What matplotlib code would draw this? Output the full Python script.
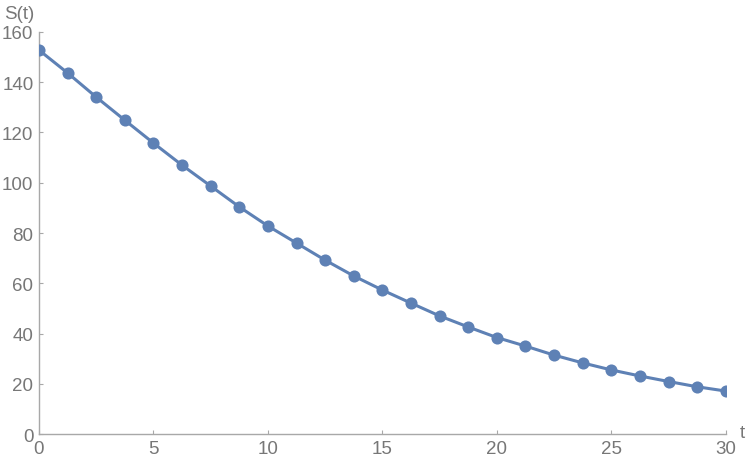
import numpy as np
import matplotlib.pyplot as plt

plt.rcParams['font.family'] = ['Liberation Sans', 'DejaVu Sans']

# data
t = [0, 1.25, 2.5, 3.75, 5, 6.25, 7.5, 8.75, 10, 11.25, 12.5, 13.75, 15,
     16.25, 17.5, 18.75, 20, 21.25, 22.5, 23.75, 25, 26.25, 27.5, 28.75, 30]
s = [152.8, 143.7, 134.1, 124.9, 115.8, 107.0, 98.7, 90.4, 82.8, 76.0, 69.2,
     62.9, 57.3, 52.1, 47.0, 42.6, 38.4, 35.0, 31.4, 28.3, 25.5, 23.1, 20.9,
     18.8, 17.1]
x_ticks = [0, 5, 10, 15, 20, 25, 30]
y_ticks = [0, 20, 40, 60, 80, 100, 120, 140, 160]

line_color = '#5E81B5'
axis_color = '#a8a8a8'
text_color = '#777777'

fig = plt.figure(figsize=(7.49, 4.6), dpi=100)
ax = fig.add_axes([0.052, 0.0543, 0.917, 0.874])

ax.plot(t, s, color=line_color, lw=2.2, zorder=3)
# scatter so that the points at the edges get clipped like the reference
ax.scatter(t, s, s=76, color=line_color, linewidths=0, zorder=4)

ax.set_xlim(0, 30)
ax.set_ylim(0, 160)
ax.set_xticks(x_ticks)
ax.set_yticks(y_ticks)

for side in ['top', 'right']:
    ax.spines[side].set_visible(False)
for side in ['left', 'bottom']:
    ax.spines[side].set_color(axis_color)
    ax.spines[side].set_linewidth(1.0)

ax.tick_params(direction='in', length=3, width=0.8, color=axis_color,
               labelcolor=text_color, labelsize=13.5, pad=4)

# axis labels in Mathematica style
ax.text(-0.006, 1.025, 'S(t)', transform=ax.transAxes, ha='right', va='bottom',
        fontsize=13.5, color=text_color)
ax.text(1.021, 0.005, 't', transform=ax.transAxes, ha='left', va='center',
        fontsize=13.5, color=text_color)

plt.savefig('out.png', dpi=100)
